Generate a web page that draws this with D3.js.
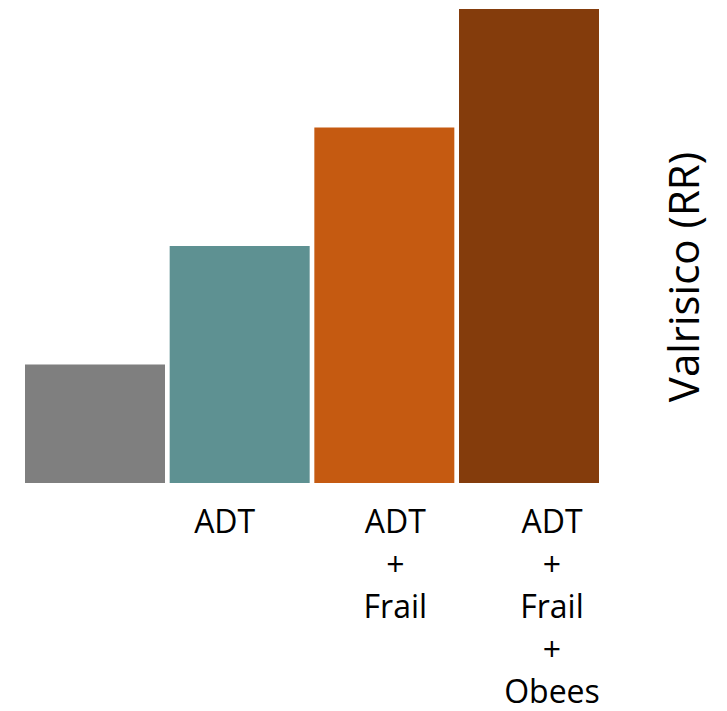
<!DOCTYPE html>
<html>
<head>
<meta charset="utf-8">
<script src="https://cdn.jsdelivr.net/npm/d3@7"></script>
<style>
  html, body { margin: 0; padding: 0; background: #ffffff; }
  svg { display: block; }
  text { font-family: "Open Sans", sans-serif; fill: #000000; }
</style>
</head>
<body>
<svg id="chart" width="727" height="711"></svg>
<script>
// Relative risk by treatment/condition combination
const categories = ["Ref", "ADT", "ADT+Frail", "ADT+Frail+Obees"];
const riskValues = [1, 2, 3, 4];
const labelLines = [
  [],
  ["ADT"],
  ["ADT", "+", "Frail"],
  ["ADT", "+", "Frail", "+", "Obees"]
];
const barColors = ["#7f7f7f", "#5e9192", "#c55a11", "#843c0c"];
const yTitle = "Valrisico (RR)";

const svg = d3.select("#chart");

const x = d3.scaleBand()
  .domain(categories)
  .range([25, 599])
  .paddingInner(0.0323)
  .paddingOuter(0);

const y = d3.scaleLinear()
  .domain([0, 4])
  .range([483, 9]);

svg.append("g")
  .selectAll("rect")
  .data(categories)
  .join("rect")
  .attr("x", d => x(d))
  .attr("width", x.bandwidth())
  .attr("y", (d, i) => y(riskValues[i]))
  .attr("height", (d, i) => y(0) - y(riskValues[i]))
  .attr("fill", (d, i) => barColors[i]);

// Category captions sit in text boxes shifted slightly from the bar centres
const labelShift = [0, -15, 11, 23];
const lineHeight = 42.5;

const labels = svg.append("g")
  .selectAll("text")
  .data(categories)
  .join("text")
  .attr("text-anchor", "middle")
  .attr("font-size", 32)
  .attr("transform", (d, i) =>
    `translate(${x(d) + x.bandwidth() / 2 + labelShift[i]},533)`);

labels.selectAll("tspan")
  .data((d, i) => labelLines[i])
  .join("tspan")
  .attr("x", 0)
  .attr("y", (d, j) => j * lineHeight)
  .text(d => d);

svg.append("text")
  .attr("transform", "translate(699,277) rotate(-90)")
  .attr("text-anchor", "middle")
  .attr("font-size", 42)
  .text(yTitle);
</script>
</body>
</html>
